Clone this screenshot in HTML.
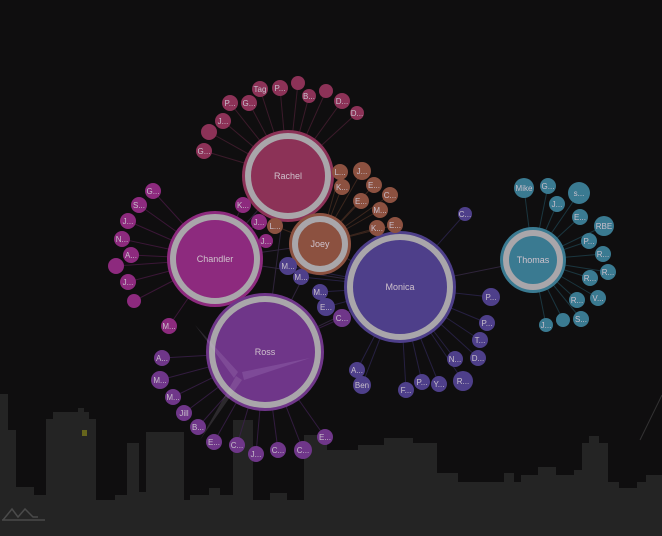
<!DOCTYPE html>
<html><head><meta charset="utf-8">
<style>
html,body{margin:0;padding:0;background:#0f0e0f;}
svg{display:block;font-family:"Liberation Sans",sans-serif;}
</style></head>
<body>
<svg id="chart" width="662" height="536" viewBox="0 0 662 536">
  <rect width="662" height="536" fill="#0f0e0f"/>
  <g id="sky"></g>
  <rect x="82" y="430" width="5" height="6" fill="#66651c"/>
  <g id="links" opacity="0.75"></g>
  <g id="nodes"></g>
  <g opacity="0.5">
    <polygon points="242,372 310,358 244,380" fill="#c9a8e0" opacity="0.35"/>
    <polygon points="238,372 195,325 234,378" fill="#d0b8e0" opacity="0.3"/>
    <polygon points="236,376 200,440 242,380" fill="#d0c0d8" opacity="0.3"/>
    <line x1="640" y1="440" x2="662" y2="395" stroke="#555" stroke-width="1"/>
  </g>
  <path d="M3,520 L12,509 L18,517 L25,509 L33,517 L38,517" fill="none" stroke="#4a4a4a" stroke-width="1.5"/>
  <line x1="2" y1="520" x2="45" y2="520" stroke="#4a4a4a" stroke-width="1.5"/>
</svg>
<script>
const skyX=[0,8,16,34,46,53,78,84,89,96,115,127,139,146,184,190,209,220,233,253,270,287,304,327,358,384,413,437,458,504,514,521,538,556,574,582,589,599,608,619,637,646,662];
const skyY=[394,430,487,495,419,412,408,412,419,500,495,443,492,432,500,495,488,495,420,500,493,500,435,450,445,438,443,473,482,473,482,475,467,475,470,443,436,443,482,488,482,475];

const hubNames=["Rachel","Chandler","Joey","Monica","Ross","Thomas"];
const hubX=[288,215,320,400,265,533];
const hubY=[176,259,244,287,352,260];
const hubR=[46,48,31,56,59,33];
const hubFill=["#8c3257","#8d2a7e","#8c5140","#4e3f8a","#6f3689","#3a7a91"];
const hubLine=["#4a1f33","#4a1a45","#4a2e22","#2e2652","#3e2150","#1f4450"];

const hubLinks=[[0,1],[0,4],[0,2],[1,2],[1,4],[2,3],[4,3],[3,5],[1,3],[2,4]];

const leafLabel=["Tag","P...","","B...","","D...","D...","P...","G...","J...","","G...",
"G...","S...","J...","N...","A...","","J...","","K...","J...","J...","M...",
"L...","J...","K...","E...","C...","E...","M...","K...","E...","L...",
"C...","P...","P...","T...","D...","N...","R...","Y...","P...","F...","A...","Ben","M...","M...","M...","E...",
"C...","A...","M...","M...","Jill","B...","E...","C...","J...","C...","C...","E...",
"Mike","G...","J...","s...","E...","RBE","P...","R...","R...","R...","V...","R...","S...","","J..."];
const leafX=[260,280,298,309,326,342,357,230,249,223,209,204,
153,139,128,122,131,116,128,134,243,259,266,169,
340,362,342,374,390,361,380,377,395,275,
465,491,487,480,478,455,463,439,422,406,357,362,288,301,320,326,
342,162,160,173,184,198,214,237,256,278,303,325,
524,548,557,579,580,604,589,603,608,590,598,577,581,563,546];
const leafY=[89,88,83,96,91,101,113,103,103,121,132,151,
191,205,221,239,255,266,282,301,205,222,241,326,
172,171,187,185,195,201,210,228,225,226,
214,297,323,340,358,359,381,384,382,390,370,385,266,277,292,307,
318,358,380,397,413,427,442,445,454,450,450,437,
188,186,204,193,217,226,241,254,272,278,298,300,319,320,325];
const leafR=[8,8,7,7,7,8,7,8,8,8,8,8,
8,8,8,8,8,8,8,7,8,8,7,8,
8,9,8,8,8,8,8,8,8,8,
7,9,8,8,8,8,10,8,8,8,8,9,9,8,8,9,
9,8,9,8,8,8,8,8,8,8,9,8,
10,8,8,11,8,10,8,8,8,8,8,8,8,7,7];
const leafHub=[0,0,0,0,0,0,0,0,0,0,0,0,
1,1,1,1,1,1,1,1,1,1,1,1,
2,2,2,2,2,2,2,2,2,2,
3,3,3,3,3,3,3,3,3,3,3,3,3,3,3,3,
4,4,4,4,4,4,4,4,4,4,4,4,
5,5,5,5,5,5,5,5,5,5,5,5,5,5,5];

const NS="http://www.w3.org/2000/svg";
function mk(t,a,p){const e=document.createElementNS(NS,t);for(const k in a)e.setAttribute(k,a[k]);p.appendChild(e);return e;}

let d="M0,536";
for(let i=0;i<skyY.length;i++){d+=" L"+skyX[i]+","+skyY[i]+" L"+skyX[i+1]+","+skyY[i];}
d+=" L662,536 Z";
const sky=mk("path",{d:d,fill:"#242424"},document.getElementById("sky"));



const links=document.getElementById("links"), nodes=document.getElementById("nodes");
hubLinks.forEach(l=>{
  const ln=mk("line",{x1:hubX[l[0]],y1:hubY[l[0]],x2:hubX[l[1]],y2:hubY[l[1]],stroke:"#3a2c4a","stroke-width":1},links);
  
  
});
leafX.forEach((x,i)=>{
  const h=leafHub[i];
  const ln=mk("line",{x1:x,y1:leafY[i],x2:hubX[h],y2:hubY[h],stroke:hubLine[h],"stroke-width":1},links);
  
  
});
hubNames.forEach((n,i)=>{
  const g=mk("g",{},nodes);
  
  
  mk("circle",{cx:hubX[i],cy:hubY[i],r:hubR[i],fill:hubFill[i]},g);
  mk("circle",{cx:hubX[i],cy:hubY[i],r:hubR[i]-6,fill:hubFill[i],stroke:"#a9a6aa","stroke-width":6},g);
  const t=mk("text",{x:hubX[i],y:hubY[i]+3,"text-anchor":"middle","font-size":9,fill:"#cfc2cc"},g);
  t.textContent=n;
});
leafX.forEach((x,i)=>{
  const h=leafHub[i];
  const g=mk("g",{},nodes);
  
  
  mk("circle",{cx:x,cy:leafY[i],r:leafR[i],fill:hubFill[h]},g);
  if(leafLabel[i]){
    const t=mk("text",{x:x,y:leafY[i]+3,"text-anchor":"middle","font-size":8,fill:"#c8bfcb"},g);
    t.textContent=leafLabel[i];
  }
});
</script>
</body></html>
